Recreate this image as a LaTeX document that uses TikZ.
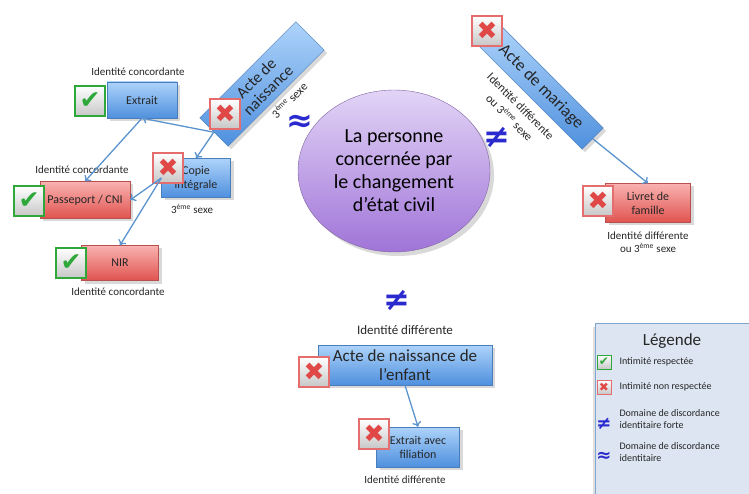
\documentclass[tikz,border=0pt]{standalone}
\usepackage{fontspec}
\setmainfont{Carlito}
\newfontfamily\symfont{DejaVu Sans}
\usetikzlibrary{positioning,shapes.geometric,shadows,arrows.meta}

\definecolor{bluetop}{HTML}{ADD3FA}
\definecolor{bluebot}{HTML}{4F90DE}
\definecolor{bluedraw}{HTML}{4A7EBB}
\definecolor{redtop}{HTML}{F9B2B0}
\definecolor{redbot}{HTML}{E0534F}
\definecolor{reddraw}{HTML}{B8504D}
\definecolor{okgreen}{HTML}{2EA83A}
\definecolor{nored}{HTML}{E04848}
\definecolor{linkblue}{HTML}{5B93CF}
\definecolor{signblue}{HTML}{2A2ACF}
\definecolor{perstop}{HTML}{E2D4F6}
\definecolor{persbot}{HTML}{A074D8}
\definecolor{persdraw}{HTML}{8064A2}
\definecolor{legfill}{HTML}{DCE5F1}

\newcommand{\okmark}{✔}
\newcommand{\nomark}{✖}

\tikzset{
  doc/.style={align=center, inner sep=2pt, text=black!85,
    drop shadow={opacity=.3, shadow xshift=3pt, shadow yshift=-3pt},
    font=\fontsize{12}{14}\selectfont},
  bluedoc/.style={doc, draw=bluedraw, top color=bluetop, bottom color=bluebot},
  reddoc/.style={doc, draw=reddraw, top color=redtop, bottom color=redbot},
  tag/.style={align=center, text=black!85, font=\fontsize{11}{12.5}\selectfont},
  icon/.style={minimum size=30pt, inner sep=0pt, line width=1.6pt,
    top color=white, bottom color=black!22,
    font=\symfont\fontsize{25}{25}\selectfont},
  okicon/.style={icon, draw=okgreen, text=okgreen},
  noicon/.style={icon, draw=nored!80, text=nored},
  sign/.style={text=signblue, inner sep=0pt, font=\symfont\bfseries\fontsize{32}{32}\selectfont},
  link/.style={draw=linkblue, line width=1.3pt, -{To[length=5pt, width=9pt]}},
  legtext/.style={anchor=west, align=left, text=black!85, font=\fontsize{10}{11.5}\selectfont}
}

\begin{document}
\begin{tikzpicture}[x=1pt, y=-1pt]
  \useasboundingbox (0,0) rectangle (749,494);

  % personne concernee
  \node (pers) [ellipse, minimum width=192pt, minimum height=162pt, draw=persdraw,
    top color=perstop, bottom color=persbot, align=center,
    drop shadow={opacity=.3, shadow xshift=4pt, shadow yshift=-4pt},
    font=\fontsize{20}{23}\selectfont] at (394,171)
    {La personne\\concernée par\\le changement\\d’état civil};

  % acte de naissance et ses extraits
  \node (nais) [bluedoc, rotate=45, minimum width=136pt, minimum height=40pt,
    font=\fontsize{16}{17}\selectfont] at (262,84) {Acte de\\naissance};
  \node (naistag) [tag, rotate=45, font=\fontsize{12}{14}\selectfont] at (289,100) {3\textsuperscript{ème} sexe};
  \node (nonais) [noicon] at (225,114) {\nomark};
  \node (approx) [sign] at (300,123) {≈};

  \node (extrait) [bluedoc, minimum width=70pt, minimum height=36pt] at (142,100) {Extrait};
  \node (okextrait) [okicon] at (90,101) {\okmark};
  \node (extraittag) [tag] at (138,72) {Identité concordante};

  \node (copie) [bluedoc, minimum width=69pt, minimum height=39pt] at (196,178) {Copie\\intégrale};
  \node (nocopie) [noicon] at (168,168) {\nomark};
  \node (copietag) [tag] at (192,209) {3\textsuperscript{ème} sexe};

  \node (passeport) [reddoc, minimum width=90pt, minimum height=37pt] at (85,200) {Passeport / CNI};
  \node (okpasseport) [okicon] at (29,201) {\okmark};
  \node (passeporttag) [tag] at (82,170) {Identité concordante};

  \node (nir) [reddoc, minimum width=77pt, minimum height=35pt] at (120,263) {NIR};
  \node (oknir) [okicon] at (71,263) {\okmark};
  \node (nirtag) [tag] at (118,292) {Identité concordante};

  \draw [link] (nais.west) -- (extrait.south);
  \draw [link] (extrait.south) -- (passeport.north);
  \draw [link] (nais.west) -- (copie.north);
  \draw [link] (copie.west) -- (passeport.east);
  \draw [link] (copie.west) -- (nir.north);

  % acte de mariage
  \node (mariage) [bluedoc, rotate=-45, minimum width=146pt, minimum height=30pt,
    font=\fontsize{17}{18}\selectfont] at (541,87) {Acte de mariage};
  \node (nomariage) [noicon] at (487,31) {\nomark};
  \node (mariagetag) [tag, rotate=-45, font=\fontsize{12}{16}\selectfont] at (515,112)
    {Identité différente\\ou 3\textsuperscript{ème} sexe};
  \node (neqmariage) [sign] at (497,137) {≠};

  \node (livret) [reddoc, minimum width=85pt, minimum height=39pt] at (648,203) {Livret de\\famille};
  \node (nolivret) [noicon] at (598,201) {\nomark};
  \node (livrettag) [tag] at (648,242) {Identité différente\\ou 3\textsuperscript{ème} sexe};

  \draw [link] (mariage.east) -- (livret.north);

  % acte de naissance de l'enfant
  \node (neqenfant) [sign] at (397,300) {≠};
  \node (enfanttag) [tag, font=\fontsize{13}{15}\selectfont] at (405,330) {Identité différente};
  \node (enfant) [bluedoc, minimum width=174pt, minimum height=40pt,
    font=\fontsize{17}{19}\selectfont] at (405,365) {Acte de naissance de\\l’enfant};
  \node (noenfant) [noicon] at (314,372) {\nomark};

  \node (filiation) [bluedoc, minimum width=83pt, minimum height=40pt] at (418,447) {Extrait avec\\filiation};
  \node (nofiliation) [noicon] at (374,434) {\nomark};
  \node (filiationtag) [tag] at (405,480) {Identité différente};

  \draw [link] (enfant.south) -- (filiation.north);

  % legende
  \node (legende) [draw=bluedraw!70, fill=legfill, line width=1pt, anchor=north west,
    minimum width=165pt, minimum height=180pt,
    drop shadow={opacity=.25, shadow xshift=-3pt, shadow yshift=-3pt}] at (595,323) {};
  \node (legtitle) [text=black!85, font=\fontsize{17}{19}\selectfont] at (672,341) {Légende};
  \node (legok) [okicon, minimum size=14pt, line width=.8pt, font=\symfont\fontsize{12}{12}\selectfont] at (604,362) {\okmark};
  \node (legno) [noicon, minimum size=14pt, line width=.8pt, font=\symfont\fontsize{12}{12}\selectfont] at (604,387) {\nomark};
  \node (legneq) [sign, font=\symfont\bfseries\fontsize{18}{18}\selectfont] at (604,424) {≠};
  \node (legapprox) [sign, font=\symfont\bfseries\fontsize{18}{18}\selectfont] at (604,457) {≈};
  \node (legoktext) [legtext] at (616,362) {Intimité respectée};
  \node (legnotext) [legtext] at (616,387) {Intimité non respectée};
  \node (legneqtext) [legtext] at (616,419) {Domaine de discordance\\identitaire forte};
  \node (legapproxtext) [legtext] at (616,452) {Domaine de discordance\\identitaire};
\end{tikzpicture}
\end{document}
